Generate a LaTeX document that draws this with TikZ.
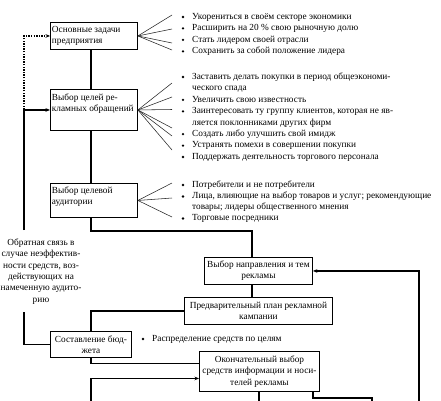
\documentclass[tikz,border=0pt]{standalone}
\usepackage{fontspec}
\setmainfont{Liberation Serif}
\usetikzlibrary{arrows.meta,calc}
\begin{document}
\begin{tikzpicture}[x=1pt,y=-1pt,
  box/.style={draw, line width=0.9pt, inner sep=0pt, anchor=north west,
    font=\fontsize{9.3}{11.4}\selectfont},
  conn/.style={line width=1.3pt},
  dots/.style={dash pattern=on 1.3pt off 1.3pt},
  arr/.style={-{Stealth[length=4.5pt,width=3.6pt]}},
  fan/.style={line width=0.55pt, black!85},
  itm/.style={anchor=mid west, inner sep=0pt, font=\fontsize{9.3}{11.4}\selectfont},
  bul/.style={circle, fill, inner sep=0pt, minimum size=2.6pt},
  lbl/.style={align=center, inner sep=0pt, font=\fontsize{9.3}{11.4}\selectfont}
]
\useasboundingbox (0,0) rectangle (441,400);

% boxes
\node[box, minimum width=87pt] (b1) at (50,22)
  {\parbox[c][27pt][c]{84pt}{\mbox{Основные задачи}\\\mbox{предприятия}}};
\node[box, minimum width=87pt] (b2) at (50,89)
  {\parbox[c][41pt][t]{84pt}{\vspace*{4pt}\mbox{Выбор целей ре-}\\\mbox{кламных обращений}}};
\node[box, minimum width=87pt] (b3) at (50,183)
  {\parbox[c][34pt][t]{84pt}{\vspace*{3pt}\mbox{Выбор целевой}\\\mbox{аудитории}}};
\node[box, minimum width=108pt] (b4) at (204,257)
  {\parbox[c][27pt][c]{104pt}{\centering\mbox{Выбор направления и тем}\\\mbox{рекламы}}};
\node[box, minimum width=148pt] (b5) at (184,297)
  {\parbox[c][27pt][c]{144pt}{\centering\mbox{Предварительный план рекламной}\\\mbox{кампании}}};
\node[box, minimum width=81pt] (bud) at (50,331)
  {\parbox[c][26pt][c]{77pt}{\centering\mbox{Составление бюд-}\\\mbox{жета}}};
\node[box, minimum width=120pt] (b6) at (199,351)
  {\parbox[c][40pt][c]{116pt}{\centering\mbox{Окончательный выбор}\\\mbox{средств информации и носи-}\\\mbox{телей рекламы}}};

% feedback label
\node[lbl] (fb) at (41,271.5) {Обратная связь в\\случае неэффектив-\\ности средств, воз-\\действующих на\\намеченную аудито-\\рию};

% helper coordinates
\coordinate (colx) at (91,0);
\coordinate (colB) at (252,0);
\coordinate (fbA) at (24,230);
\coordinate (fbB) at (24,312);
\coordinate (fbJ) at (24,109.5);
\coordinate (botL) at (91,402);
\coordinate (botM) at (259,402);
\coordinate (botR) at (372,402);
\coordinate (botRR) at (419,402);

% feedback line
\draw[conn,arr] (fbA) |- (b2.west);
\draw[conn,dots,arr] (fbJ) |- (b1.west);
\draw[conn] (fbB) |- (bud.west);

% main flow
\draw[conn] (b1.south -| colx) -- (b2.north -| colx);
\draw[conn] (b2.south -| colx) -- (b3.north -| colx);
\draw[conn] (b3.south -| colx) -- ++(0,13) -| (b4.north -| colB);
\draw[conn] (b4.south -| colB) -- (b5.north -| colB);
\draw[conn] (b5.west) -| (bud.north -| colx);
\draw[conn] (bud.south -| colx) |- ([yshift=8pt]b6.west);
\draw[conn,arr] (botL) |- ([yshift=-7pt]b6.west);
\draw[conn] (b6.south -| botM) -- (botM);
\draw[conn] ([xshift=-7pt]b6.south east) -- ++(0,6) -| (botR);
\draw[conn,arr] (botRR) |- (b4.east);

% fans
\foreach \y [count=\i] in {15,29,43,50} \coordinate (fa\i) at (172,\y);
\foreach \i in {1,...,4} \draw[fan] (b1.east) -- (fa\i);
\foreach \y [count=\i] in {83,97,109.5,128,136,150} \coordinate (fb\i) at (172,\y);
\foreach \i in {1,...,6} \draw[fan] (b2.east) -- (fb\i);
\foreach \y [count=\i] in {183,198,217} \coordinate (fc\i) at (172,\y);
\foreach \i in {1,...,3} \draw[fan] (b3.east) -- (fc\i);

% list 1
\node[bul] (u1) at (183,17) {};
\node[itm] (t1) at (192,17) {Укорениться в своём секторе экономики};
\node[bul] (u2) at (183,28.4) {};
\node[itm] (t2) at (192,28.4) {Расширить на 20 \% свою рыночную долю};
\node[bul] (u3) at (183,39.9) {};
\node[itm] (t3) at (192,39.9) {Стать лидером своей отрасли};
\node[bul] (u4) at (183,51.3) {};
\node[itm] (t4) at (192,51.3) {Сохранить за собой положение лидера};

% list 2
\node[bul] (v1) at (183,77) {};
\node[itm] (s1) at (192,77) {Заставить делать покупки в период общеэкономи-};
\node[itm] (s1b) at (192,88.4) {ческого спада};
\node[bul] (v2) at (183,99.9) {};
\node[itm] (s2) at (192,99.9) {Увеличить свою известность};
\node[bul] (v3) at (183,111.3) {};
\node[itm] (s3) at (192,111.3) {Заинтересовать ту группу клиентов, которая не яв-};
\node[itm] (s3b) at (192,122.7) {ляется поклонниками других фирм};
\node[bul] (v4) at (183,134.1) {};
\node[itm] (s4) at (192,134.1) {Создать либо улучшить свой имидж};
\node[bul] (v5) at (183,145.6) {};
\node[itm] (s5) at (192,145.6) {Устранять помехи в совершении покупки};
\node[bul] (v6) at (183,157) {};
\node[itm] (s6) at (192,157) {Поддержать деятельность торгового персонала};

% list 3
\node[bul] (w1) at (183,185) {};
\node[itm] (r1) at (192,185) {Потребители и не потребители};
\node[bul] (w2) at (183,196.5) {};
\node[itm] (r2) at (192,196.5) {Лица, влияющие на выбор товаров и услуг; рекомендующие};
\node[itm] (r2b) at (192,207.5) {товары; лидеры общественного мнения};
\node[bul] (w3) at (183,218.5) {};
\node[itm] (r3) at (192,218.5) {Торговые посредники};

% budget list
\node[bul] (x1) at (143,339) {};
\node[itm] (q1) at (152,339) {Распределение средств по целям};
\end{tikzpicture}
\end{document}
